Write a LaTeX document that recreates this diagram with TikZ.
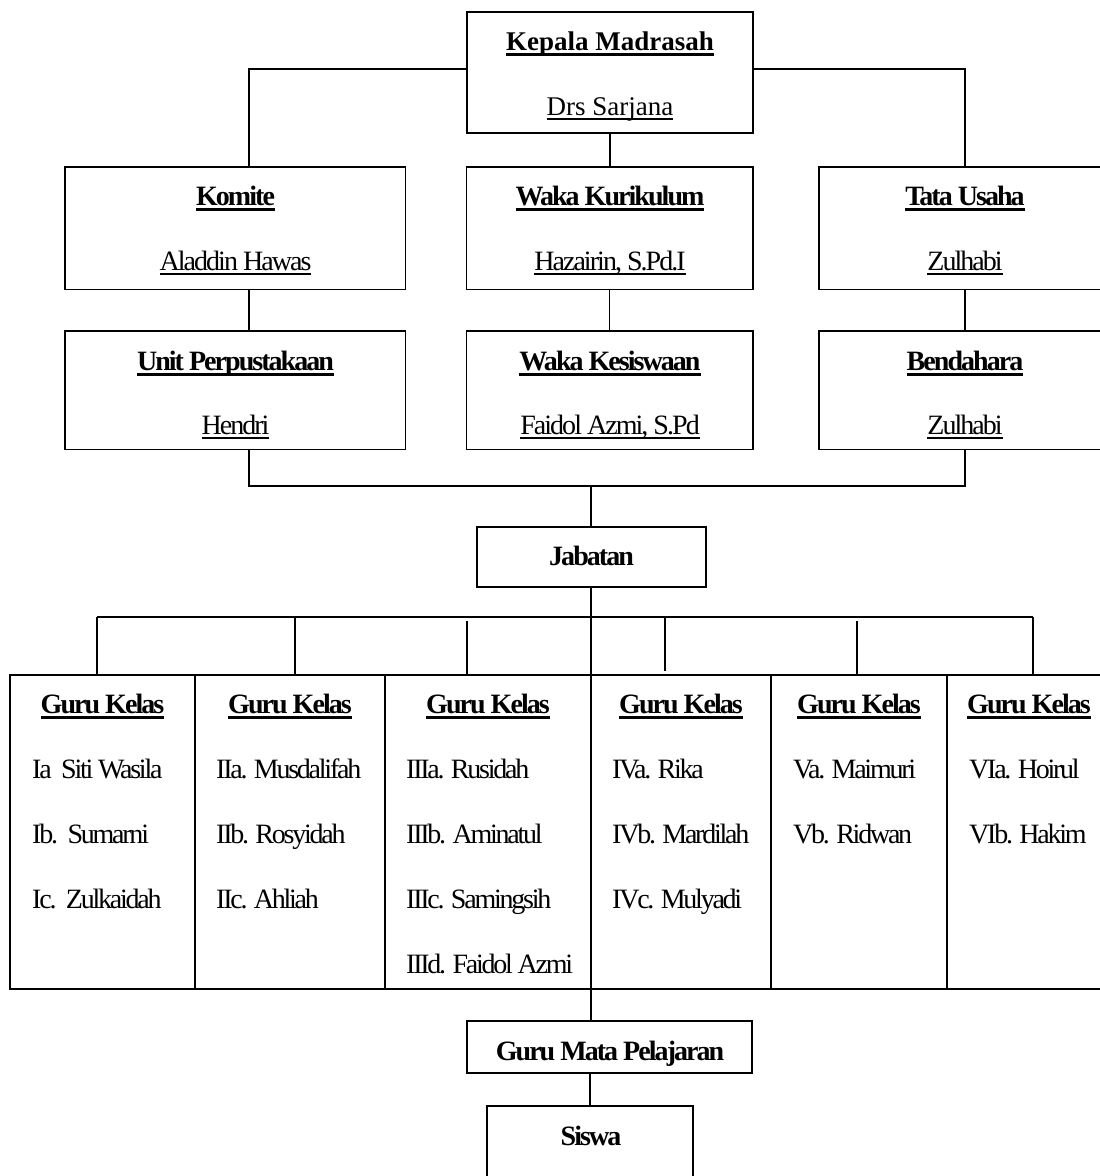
\documentclass[tikz,border=0pt]{standalone}
\usepackage{fontspec}
\setmainfont{Liberation Serif}
\newfontfamily\cnd[LetterSpace=-7]{Liberation Serif}
\newfontfamily\cnr[LetterSpace=-8]{Liberation Serif}
\newsavebox\ulbox
\newcommand\ulT[1]{\sbox\ulbox{#1}\rlap{\rule[-6pt]{\wd\ulbox}{2.8pt}}\usebox\ulbox}
\newcommand\ulN[1]{\sbox\ulbox{#1}\rlap{\rule[-4.8pt]{\wd\ulbox}{2.3pt}}\usebox\ulbox}
\begin{document}
\begin{tikzpicture}[x=1pt,y=-1pt,
  box/.style={draw, line width=1.8pt, inner sep=0pt, outer sep=0pt},
  conn/.style={line width=1.4pt},
  ttl/.style={inner sep=0pt, anchor=base, font=\fontsize{28}{30}\selectfont\cnd\bfseries},
  nm/.style={inner sep=0pt, anchor=base, font=\fontsize{28}{30}\selectfont\cnd},
  rowt/.style={inner sep=0pt, anchor=base west, font=\fontsize{28}{30}\selectfont\cnr}]
\useasboundingbox (0,0) rectangle (1100,1176);

% top boxes
\node[box, minimum width=286pt, minimum height=121pt] (kep) at (610,72.5) {};
\node[box, minimum width=340.5pt, minimum height=122.5pt] (kom) at (235.25,228.25) {};
\node[box, minimum width=286.2pt, minimum height=122.5pt] (wkk) at (609.6,228.25) {};
\node[box, minimum width=292pt, minimum height=122.5pt] (tu) at (965,228.25) {};
\node[box, minimum width=340.5pt, minimum height=118.5pt] (up) at (235.25,390.25) {};
\node[box, minimum width=286.2pt, minimum height=118.5pt] (wks) at (609.6,390.25) {};
\node[box, minimum width=292pt, minimum height=118.5pt] (bend) at (965,390.25) {};
\node[box, minimum width=229pt, minimum height=60pt] (jab) at (591.5,557) {};

% table cells
\node[box, minimum width=185pt, minimum height=314pt] (c1) at (102.5,832) {};
\node[box, minimum width=190pt, minimum height=314pt] (c2) at (290,832) {};
\node[box, minimum width=206pt, minimum height=314pt] (c3) at (488,832) {};
\node[box, minimum width=180pt, minimum height=314pt] (c4) at (681,832) {};
\node[box, minimum width=176pt, minimum height=314pt] (c5) at (859,832) {};
\node[box, minimum width=164pt, minimum height=314pt] (c6) at (1029,832) {};

\node[box, minimum width=285pt, minimum height=52pt] (gmp) at (609.5,1047) {};
\node[box, minimum width=206pt, minimum height=104pt] (sis) at (590,1158) {};

% texts
\node[inner sep=0pt, anchor=base, font=\fontsize{27}{30}\selectfont\bfseries] (t-kep) at (610,50) {\ulT{Kepala Madrasah}};
\node[inner sep=0pt, anchor=base, font=\fontsize{27}{30}\selectfont] (n-kep) at (610,115) {\ulN{Drs Sarjana}};
\node[ttl] (t-kom) at (235.5,205) {\ulT{Komite}};
\node[nm] (n-kom) at (235.5,270) {\ulN{Aladdin Hawas}};
\node[ttl] (t-wkk) at (610,205) {\ulT{Waka Kurikulum}};
\node[nm] (n-wkk) at (610,270) {\ulN{Hazairin, S.Pd.I}};
\node[ttl] (t-tu) at (965,205) {\ulT{Tata Usaha}};
\node[nm] (n-tu) at (965,270) {\ulN{Zulhabi}};
\node[ttl] (t-up) at (235.5,370) {\ulT{Unit Perpustakaan}};
\node[nm] (n-up) at (235.5,434) {\ulN{Hendri}};
\node[ttl] (t-wks) at (610,370) {\ulT{Waka Kesiswaan}};
\node[nm] (n-wks) at (610,434) {\ulN{Faidol Azmi, S.Pd}};
\node[ttl] (t-bend) at (965,370) {\ulT{Bendahara}};
\node[nm] (n-bend) at (965,434) {\ulN{Zulhabi}};
\node[ttl] (t-jab) at (591.5,565) {Jabatan};

\foreach \c/\x in {c1/102.5,c2/290,c3/488,c4/681,c5/859,c6/1029}{
  \node[ttl] (t-\c) at (\x,713) {\ulT{Guru Kelas}};
}
\node[rowt] (r11) at (32,778) {Ia\ \ Siti Wasila};
\node[rowt] (r12) at (32,843) {Ib.\ \ Sumarni};
\node[rowt] (r13) at (32,908) {Ic.\ \ Zulkaidah};
\node[rowt] (r21) at (216,778) {IIa. Musdalifah};
\node[rowt] (r22) at (216,843) {IIb. Rosyidah};
\node[rowt] (r23) at (216,908) {IIc. Ahliah};
\node[rowt] (r31) at (406,778) {IIIa. Rusidah};
\node[rowt] (r32) at (406,843) {IIIb. Aminatul};
\node[rowt] (r33) at (406,908) {IIIc. Samingsih};
\node[rowt] (r34) at (406,973) {IIId. Faidol Azmi};
\node[rowt] (r41) at (612,778) {IVa. Rika};
\node[rowt] (r42) at (612,843) {IVb. Mardilah};
\node[rowt] (r43) at (612,908) {IVc. Mulyadi};
\node[rowt] (r51) at (793,778) {Va. Maimuri};
\node[rowt] (r52) at (793,843) {Vb. Ridwan};
\node[rowt] (r61) at (969,778) {VIa. Hoirul};
\node[rowt] (r62) at (969,843) {VIb. Hakim};

\node[ttl] (t-gmp) at (610,1060) {Guru Mata Pelajaran};
\node[ttl] (t-sis) at (591,1145) {Siswa};

% connectors
\coordinate (jL) at (249,69);
\coordinate (jR) at (965,69);
\draw[conn] (kep.west |- jL) -- (jL) -- (jL |- kom.north);
\draw[conn] (kep.east |- jR) -- (jR) -- (jR |- tu.north);
\draw[conn] (kep.south) -- (kep.south |- wkk.north);
\draw[conn] (jL |- kom.south) -- (jL |- up.north);
\draw[conn] (wkk.south) -- (wkk.south |- wks.north);
\draw[conn] (tu.south) -- (bend.north);

\coordinate (bL) at (249,486);
\coordinate (bR) at (965,486);
\coordinate (bM) at (591,486);
\draw[conn] (bL |- up.south) -- (bL) -- (bR) -- (bend.south);
\draw[conn] (bM) -- (bM |- jab.north);

\coordinate (sL) at (97,617);
\coordinate (sR) at (1033,617);
\draw[conn] (sL) -- (sR);
\draw[conn] (bM |- jab.south) -- (c4.north west);
\draw[conn] (sL) -- (sL |- c1.north);
\draw[conn] (295,617) -- (295,617 |- c2.north);
\draw[conn] (467,621) -- (467,621 |- c3.north);
\draw[conn] (665,617) -- (665,671);
\draw[conn] (857,621) -- (857,621 |- c5.north);
\draw[conn] (sR) -- (sR |- c6.north);

\draw[conn] (c4.south west) -- (c4.south west |- gmp.north);
\draw[conn] (gmp.south -| sis.north) -- (sis.north);
\end{tikzpicture}
\end{document}
